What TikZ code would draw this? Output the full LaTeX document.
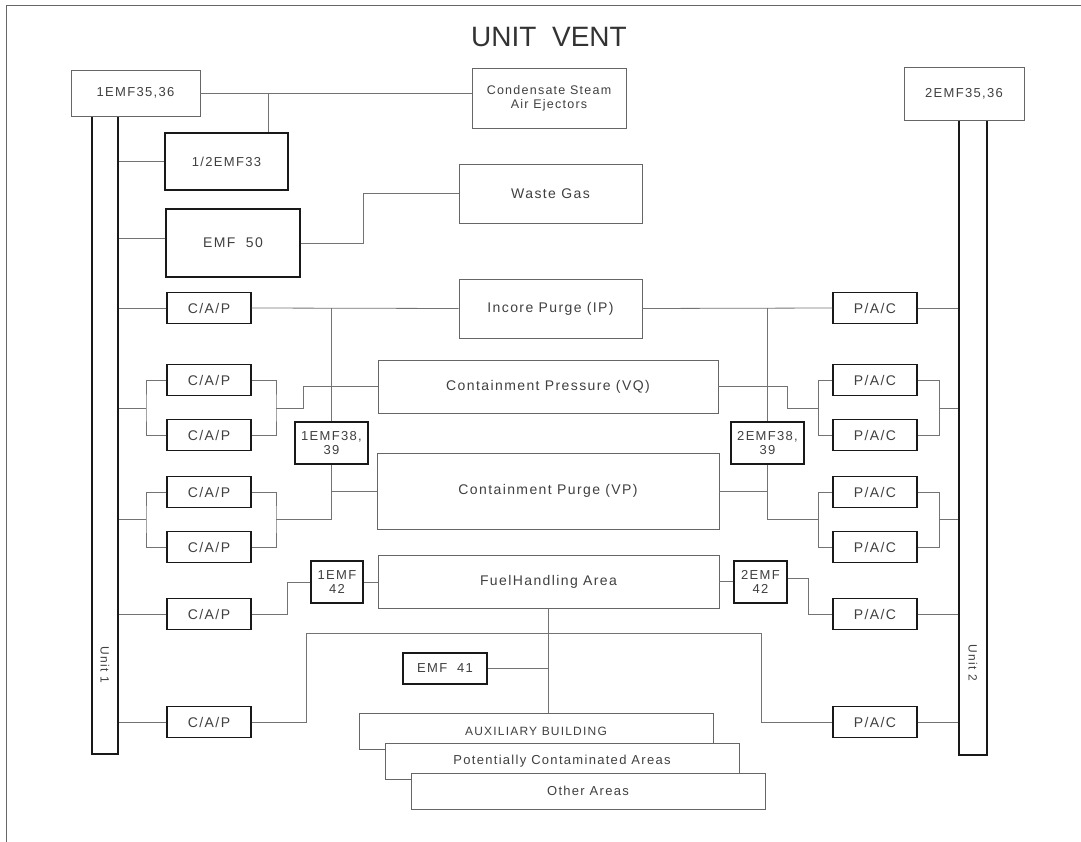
\documentclass[tikz,border=0pt]{standalone}
\usepackage{fontspec}
\setmainfont{Liberation Sans}
\newfontfamily\cadfont[LetterSpace=10]{Liberation Sans}
\usepackage{tikz}

\begin{document}
\begin{tikzpicture}[x=1pt,y=-1pt,
    thinbox/.style={draw=black!60,line width=0.8pt,fill=white,inner sep=0pt,align=center,
        text=black!75,font=\cadfont\fontsize{14}{15}\selectfont},
    thickbox/.style={thinbox,draw=black!90,line width=1.4pt},
    capbox/.style={thickbox,minimum width=84pt,minimum height=31pt},
    small/.style={font=\cadfont\fontsize{13}{14.5}\selectfont},
    wire/.style={draw=black!55,line width=0.8pt}]
    \useasboundingbox (0,0) rectangle (1081,842);
    \draw[black!60,line width=0.8pt] (6,842) -- (6,5) -- (1081,5);
    \node[text=black!80,font=\fontsize{28}{30}\selectfont] (title) at (549,37) {UNIT~~VENT};

    % units
    \node[thickbox,minimum width=26pt,minimum height=638pt] (unitA) at (105,435) {};
    \node[thickbox,minimum width=28pt,minimum height=635pt] (unitB) at (973,437.5) {};
    \node[text=black!75,font=\cadfont\fontsize{12}{14}\selectfont,rotate=-90] (labA) at (105,665) {Unit 1};
    \node[text=black!75,font=\cadfont\fontsize{12}{14}\selectfont,rotate=-90] (labB) at (973,663) {Unit 2};
    \node[thinbox,small,minimum width=129pt,minimum height=46pt] (emfA) at (135.5,93) {1EMF35,36};
    \node[thinbox,small,minimum width=120pt,minimum height=53pt] (emfB) at (964,93.5) {2EMF35,36};

    % top branches
    \node[thinbox,font=\cadfont\fontsize{12.5}{14}\selectfont,minimum width=154pt,minimum height=60pt] (condense) at (549,98) {Condensate Steam\\ Air Ejectors};
    \node[thickbox,small,minimum width=123pt,minimum height=57pt] (half33) at (226.5,161.5) {1/2EMF33};
    \node[thickbox,minimum width=134pt,minimum height=68pt] (emf50) at (233,243) {EMF~~50};
    \node[thinbox,minimum width=183pt,minimum height=59pt] (waste) at (550.5,193.5) {Waste Gas};

    % middle sources
    \node[thinbox,minimum width=183pt,minimum height=59pt] (incore) at (550.5,308.5) {Incore Purge (IP)};
    \node[thinbox,minimum width=340pt,minimum height=53pt] (vq) at (548,386.5) {Containment Pressure (VQ)};
    \node[thinbox,minimum width=342pt,minimum height=76pt] (vp) at (548,491) {Containment Purge (VP)};
    \node[thinbox,minimum width=341pt,minimum height=53pt] (fha) at (548.5,581.5) {FuelHandling Area};
    \node[thickbox,small,minimum width=73pt,minimum height=42pt] (emf38A) at (331.5,443) {1EMF38,\\39};
    \node[thickbox,small,minimum width=73pt,minimum height=42pt] (emf38B) at (767.5,443) {2EMF38,\\39};
    \node[thickbox,small,minimum width=52pt,minimum height=42pt] (emf42A) at (337,582) {1EMF\\42};
    \node[thickbox,small,minimum width=53pt,minimum height=42pt] (emf42B) at (760.5,582) {2EMF\\42};
    \node[thickbox,small,minimum width=84pt,minimum height=31pt] (emf41) at (445,668.5) {EMF~~41};

    % auxiliary building stack
    \node[thinbox,font=\cadfont\fontsize{12}{14}\selectfont,minimum width=354pt,minimum height=36pt] (aux) at (536,731) {AUXILIARY BUILDING};
    \node[thinbox,small,minimum width=354pt,minimum height=36pt] (pot) at (562,761) {Potentially Contaminated Areas};
    \node[thinbox,small,minimum width=354pt,minimum height=36pt] (other) at (588,791) {Other Areas};

    % monitor boxes
    \foreach \n/\y in {1/308,2/380,3/435,4/492,5/547,6/614,7/722}{
        \node[capbox] (cap\n) at (209,\y) {C/A/P};
        \node[capbox] (pac\n) at (875,\y) {P/A/C};
    }

    \coordinate (tapA) at (268,93);
    \coordinate (tapB) at (331.5,308);
    \coordinate (tapC) at (767.5,308);
    \coordinate (splA) at (146,408);
    \coordinate (joinA) at (276,408);
    \coordinate (splB) at (146,519);
    \coordinate (joinB) at (276,519);
    \coordinate (splC) at (818,408);
    \coordinate (joinC) at (939,408);
    \coordinate (splD) at (818,519);
    \coordinate (joinD) at (939,519);
    \coordinate (busL) at (306,633);
    \coordinate (busR) at (761,633);

    % connectors
    \draw[wire] (emfA.east) -- (emfA.east -| condense.west);
    \draw[wire] (tapA) -- (tapA |- half33.north);
    \draw[wire] (half33.west) -- (half33.west -| unitA.east);
    \draw[wire] ([yshift=5pt]emf50.west) -- ([yshift=5pt]emf50.west -| unitA.east);
    \draw[wire] (emf50.east) -- ++(63,0) |- (waste.west);

    \draw[wire] (cap1.west) -- (cap1.west -| unitA.east);
    \draw[wire] (cap1.east) -- (incore.west);
    \draw[wire] (incore.east) -- (pac1.west);
    \draw[wire] (pac1.east) -- (pac1.east -| unitB.west);
    \draw[wire] (tapB) -- (emf38A.north);
    \draw[wire] (tapC) -- (emf38B.north);

    \draw[wire] (cap2.west) -| (splA) |- (cap3.west);
    \draw[wire] (cap2.east) -| (joinA) |- (cap3.east);
    \draw[wire] (splA) -- (splA -| unitA.east);
    \draw[wire] (joinA) -- (303,408) |- (vq.west);
    \draw[wire] (cap4.west) -| (splB) |- (cap5.west);
    \draw[wire] (cap4.east) -| (joinB) |- (cap5.east);
    \draw[wire] (splB) -- (splB -| unitA.east);
    \draw[wire] (joinB) -| (emf38A.south);
    \draw[wire] (vp.west) -- (vp.west -| emf38A.south);

    \draw[wire] (pac2.west) -| (splC) |- (pac3.west);
    \draw[wire] (pac2.east) -| (joinC) |- (pac3.east);
    \draw[wire] (joinC) -- (joinC -| unitB.west);
    \draw[wire] (vq.east) -| (787,408) -- (splC);
    \draw[wire] (pac4.west) -| (splD) |- (pac5.west);
    \draw[wire] (pac4.east) -| (joinD) |- (pac5.east);
    \draw[wire] (joinD) -- (joinD -| unitB.west);
    \draw[wire] (emf38B.south) |- (splD);
    \draw[wire] (vp.east) -- (vp.east -| emf38B.south);

    \draw[wire] (cap6.west) -- (cap6.west -| unitA.east);
    \draw[wire] (cap6.east) -- ++(36,0) |- (emf42A.west);
    \draw[wire] (emf42A.east) -- (emf42A.east -| fha.west);
    \draw[wire] (fha.east) -- (fha.east -| emf42B.west);
    \draw[wire] ([yshift=4pt]emf42B.east) -- ++(21,0) |- (pac6.west);
    \draw[wire] (pac6.east) -- (pac6.east -| unitB.west);

    \draw[wire] (cap7.west) -- (cap7.west -| unitA.east);
    \draw[wire] (cap7.east) -| (busL) -- (busR) |- (pac7.west);
    \draw[wire] (pac7.east) -- (pac7.east -| unitB.west);
    \draw[wire] (fha.south) -- (fha.south |- aux.north);
    \draw[wire] (emf41.east) -- (emf41.east -| fha.south);
\end{tikzpicture}
\end{document}
